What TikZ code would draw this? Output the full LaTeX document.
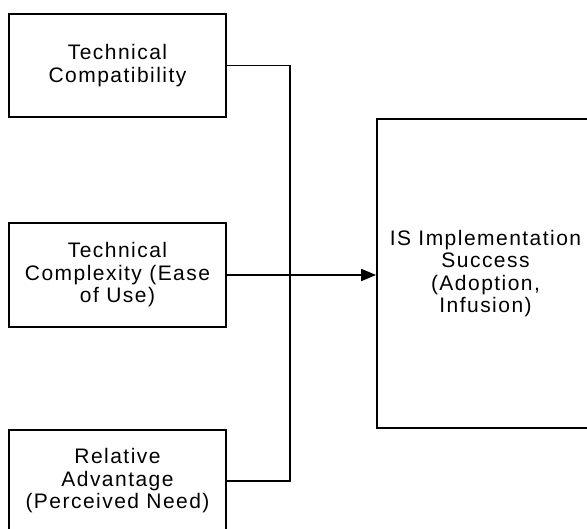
\documentclass[tikz,border=0pt]{standalone}
\usepackage{fontspec}
\setmainfont{Liberation Sans}[LetterSpace=7]
\usetikzlibrary{arrows.meta}
\tikzset{
  factor/.style={draw, line width=1.8pt, minimum width=217pt, inner sep=0pt,
    align=center, font=\fontsize{21}{22.5}\selectfont},
  link/.style={line width=1.7pt},
}
\begin{document}
\begin{tikzpicture}[x=1pt,y=1pt]
  \useasboundingbox (0,0) rectangle (587,-529);
  \clip (0,0) rectangle (587,-529);
  % antecedent factors
  \node[factor, minimum height=103pt] (b1) at (117.5,-65.5) {Technical\\Compatibility};
  \node[factor, minimum height=104pt] (b2) at (117.5,-275) {Technical\\Complexity (Ease\\of Use)};
  \node[factor, minimum height=102pt] (b3) at (117.5,-481) {Relative\\Advantage\\(Perceived Need)};
  % outcome
  \node[factor, minimum height=309pt] (out) at (485.5,-273.5) {IS Implementation\\Success\\(Adoption,\\Infusion)};
  % collecting bus
  \coordinate (bus) at (290,-275);
  \draw[link] (b1.east) -| (bus) |- (b3.east);
  \draw[link, -{Triangle[length=15pt,width=12pt]}] (b2.east) -- (b2.east -| out.west);
\end{tikzpicture}
\end{document}
